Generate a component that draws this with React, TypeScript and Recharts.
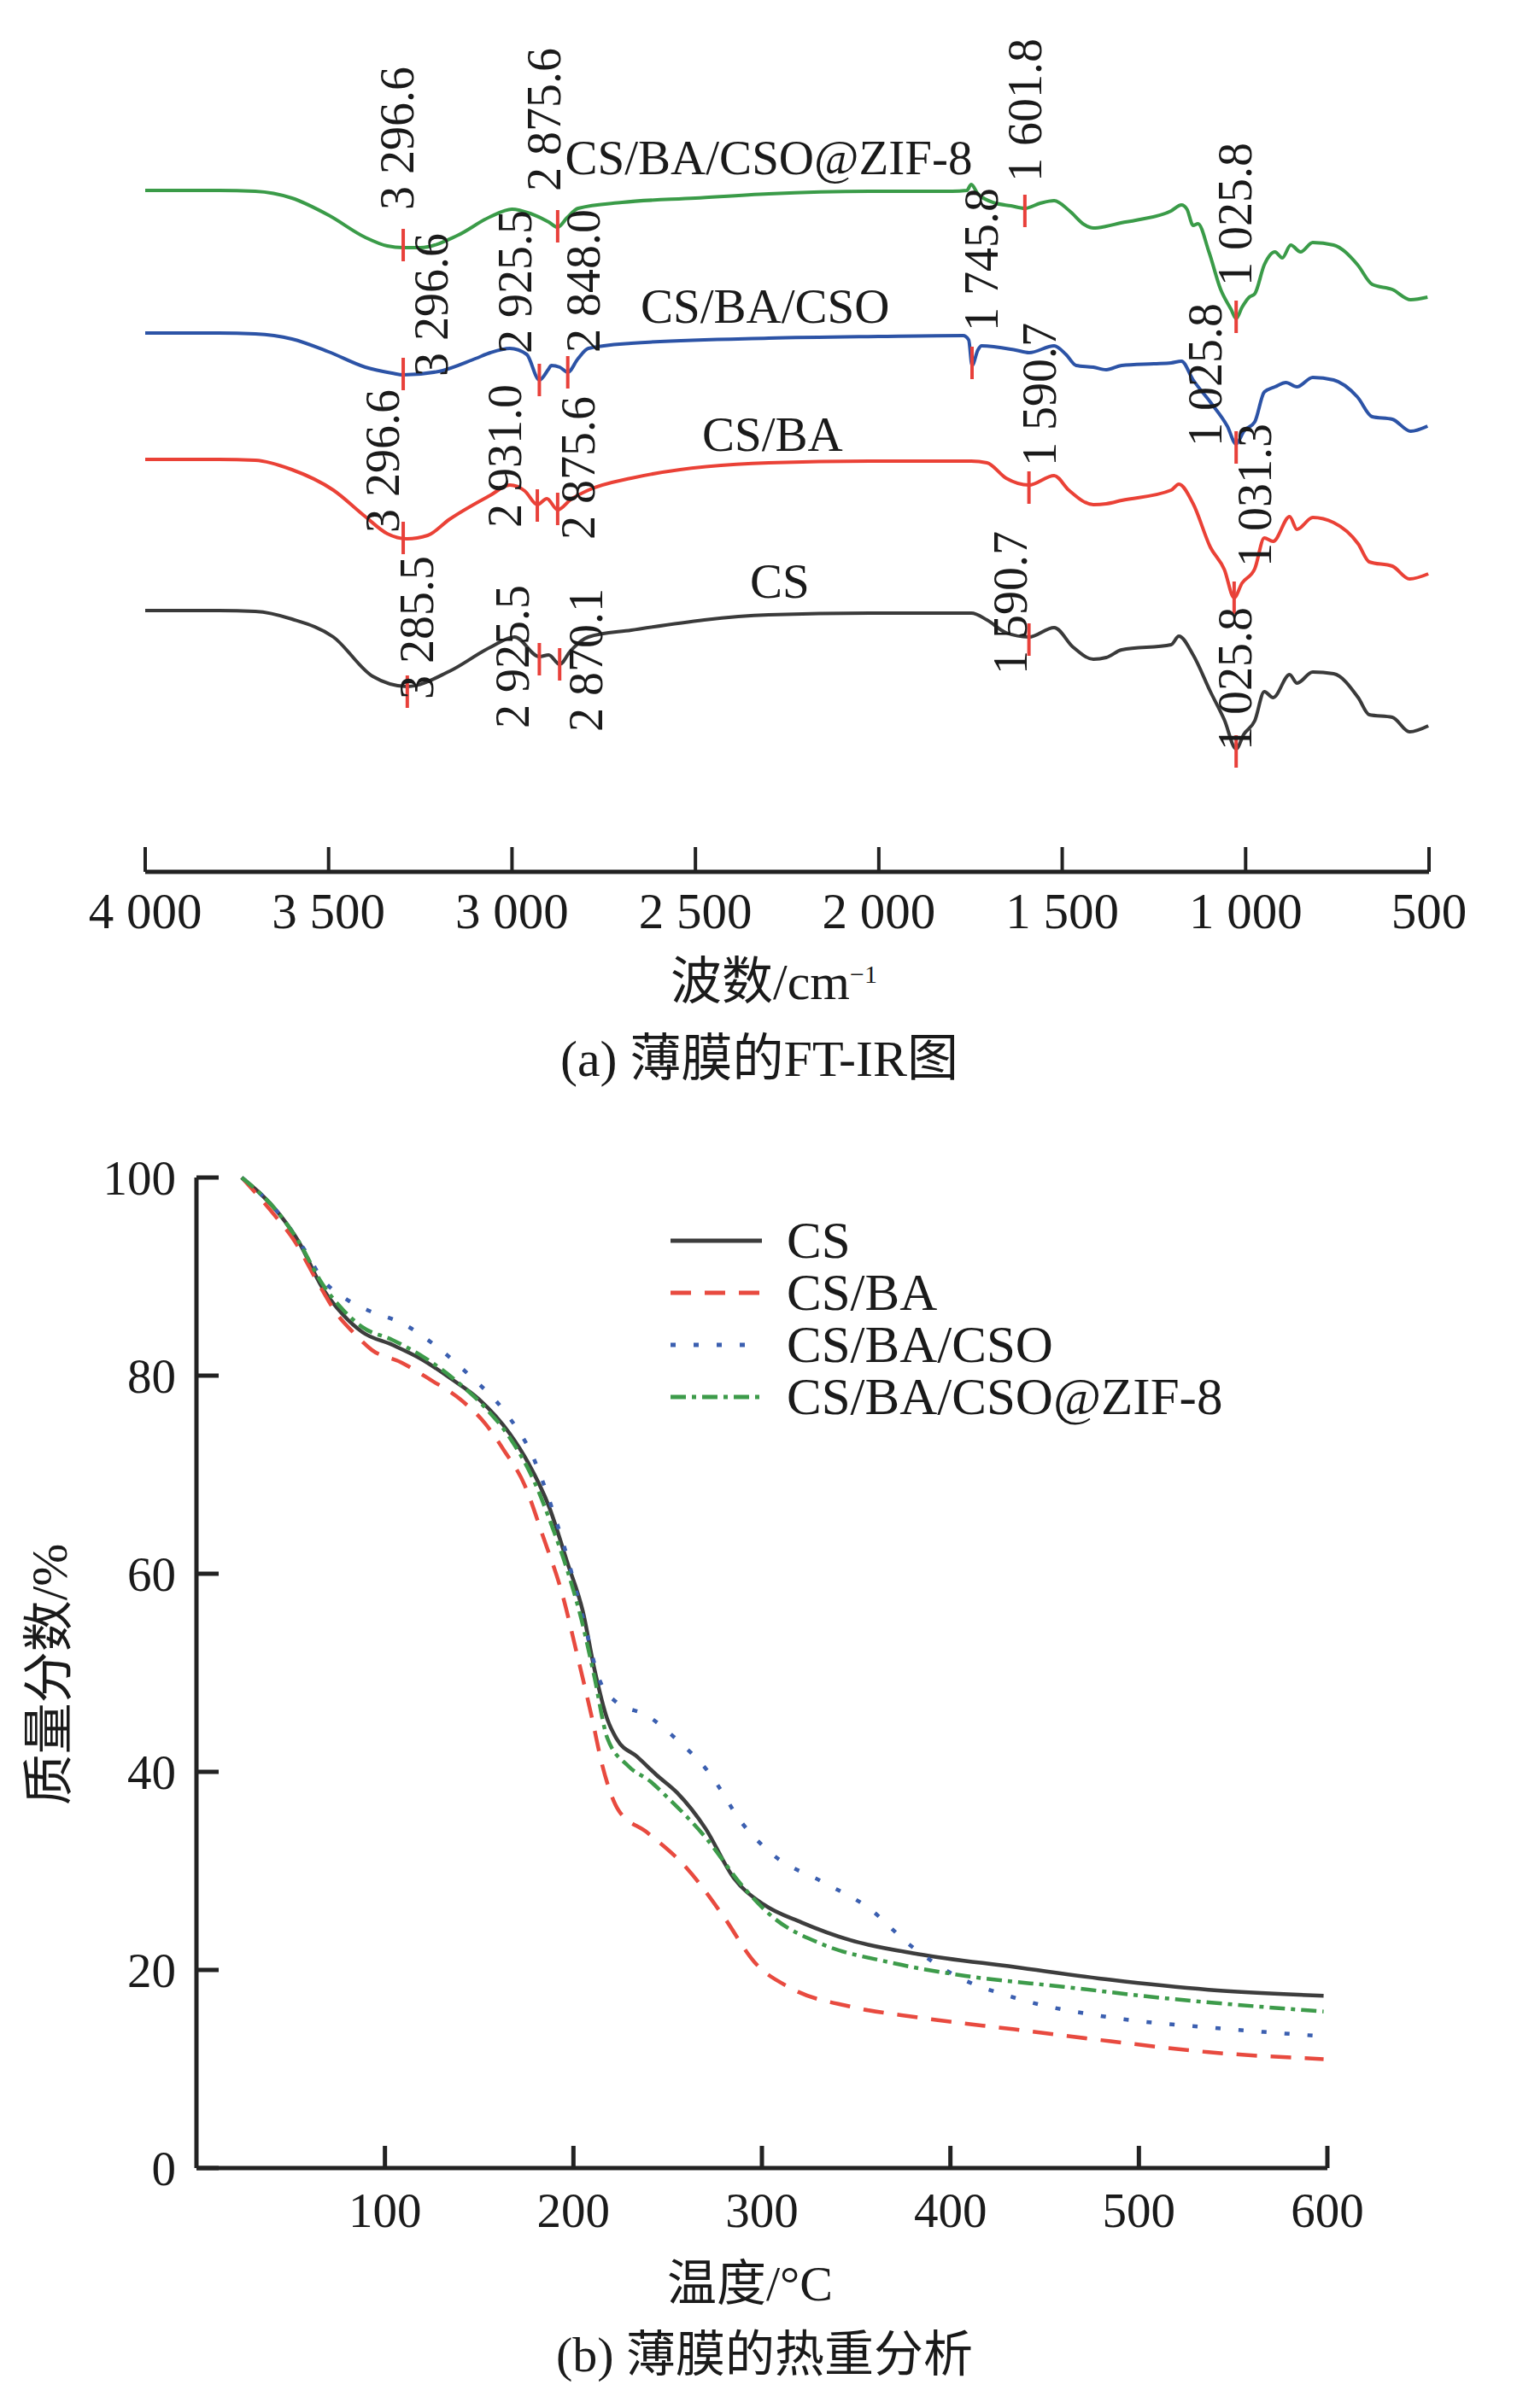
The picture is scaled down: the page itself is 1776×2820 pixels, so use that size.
import React from 'react'
import { ComposedChart, Line, Scatter, XAxis, YAxis, Legend } from 'recharts'

const SERIF = '"Liberation Serif", "Times New Roman", "Noto Sans CJK SC", serif'

// ---- (a) FT-IR spectra: [wavenumber, offset transmittance] ----
const irZif: [number, number][] = [
  [4000, 78.7], [3800, 78.7], [3700, 78.6], [3600, 77.8], [3500, 75.8], [3400, 73.2], [3340, 72.2],
  [3296.6, 72.0], [3250, 72.0], [3150, 73.4], [3060, 75.6], [3000, 76.5], [2950, 76.0], [2900, 75.0],
  [2875.6, 74.4], [2850, 75.5], [2820, 76.6], [2700, 77.3], [2500, 77.8], [2300, 78.3], [2000, 78.6],
  [1800, 78.6], [1760, 78.7], [1748, 79.4], [1730, 78.3], [1681, 77.2], [1640, 76.9], [1601.8, 76.6],
  [1560, 77.2], [1522, 77.5], [1480, 76.3], [1440, 74.7], [1415, 74.3], [1380, 74.5], [1340, 74.9],
  [1300, 75.2], [1203, 76.3], [1175, 77.0], [1160, 76.5], [1143, 74.6], [1130, 74.8], [1100, 71.5],
  [1068, 67.1], [1040, 64.8], [1025.8, 63.7], [1010, 65.0], [990, 66.2], [975, 66.6], [949, 70.0],
  [920, 71.5], [900, 70.8], [877, 72.3], [850, 71.5], [817, 72.6], [760, 72.3], [695, 70.0],
  [655, 67.7], [600, 67.1], [550, 65.9], [504, 66.2],
]
const irCso: [number, number][] = [
  [4000, 62.0], [3800, 62.0], [3700, 61.9], [3600, 61.3], [3500, 59.8], [3400, 58.0], [3327, 57.3],
  [3296.6, 57.1], [3200, 57.5], [3100, 59.0], [3059, 59.7], [3006, 60.2], [2960, 59.5], [2925.5, 56.5],
  [2900, 57.8], [2893, 58.2], [2870, 58.0], [2848, 57.4], [2820, 59.0], [2792, 60.2], [2675, 60.8],
  [2300, 61.4], [2000, 61.6], [1770, 61.7], [1755, 61.2], [1745.8, 58.2], [1730, 60.0], [1720, 60.5],
  [1627, 60.0], [1590, 59.7], [1522, 60.5], [1490, 59.5], [1462, 58.2], [1415, 58.0], [1380, 57.7],
  [1338, 58.2], [1250, 58.4], [1203, 58.5], [1175, 58.7], [1143, 56.5], [1096, 53.9], [1050, 51.1],
  [1025.8, 49.0], [1005, 50.5], [975, 51.6], [949, 55.1], [920, 55.7], [890, 56.2], [860, 55.7],
  [817, 56.8], [760, 56.5], [695, 54.5], [655, 52.2], [600, 51.9], [550, 50.5], [504, 51.1],
]
const irBa: [number, number][] = [
  [4000, 47.2], [3800, 47.2], [3700, 47.1], [3600, 46.0], [3487, 43.6], [3400, 40.5], [3340, 38.5],
  [3287, 37.9], [3230, 38.3], [3170, 40.2], [3059, 43.0], [3006, 44.2], [2965, 43.5], [2931, 41.9],
  [2905, 42.6], [2875.6, 41.3], [2840, 42.5], [2792, 43.6], [2675, 45.0], [2300, 46.8], [2000, 47.0],
  [1748, 47.0], [1705, 46.8], [1653, 45.0], [1590.7, 44.2], [1522, 45.3], [1482, 43.6], [1415, 41.9],
  [1380, 42.0], [1338, 42.4], [1203, 43.6], [1182, 44.3], [1143, 42.0], [1096, 36.9], [1058, 34.3],
  [1031.3, 31.0], [1010, 32.7], [975, 34.4], [949, 38.0], [925, 37.6], [880, 40.5], [860, 39.0],
  [817, 40.4], [760, 39.8], [693, 37.3], [663, 35.2], [600, 34.7], [553, 33.2], [502, 33.8],
]
const irCs: [number, number][] = [
  [4000, 29.5], [3800, 29.5], [3700, 29.4], [3600, 28.5], [3487, 26.4], [3380, 21.8], [3285.5, 20.6],
  [3170, 22.4], [3059, 25.2], [2993, 26.4], [2925.5, 24.1], [2900, 24.3], [2870.1, 23.2], [2840, 24.8],
  [2792, 26.4], [2675, 27.2], [2300, 29.0], [2000, 29.2], [1748, 29.2], [1705, 28.4], [1653, 26.9],
  [1590.7, 26.4], [1522, 27.5], [1470, 25.2], [1415, 23.8], [1380, 24.0], [1338, 24.9], [1203, 25.5],
  [1182, 26.5], [1143, 24.3], [1096, 20.0], [1058, 16.7], [1025.8, 13.3], [1005, 15.0], [975, 16.6],
  [949, 20.0], [925, 19.3], [880, 22.0], [860, 21.0], [817, 22.3], [760, 22.1], [693, 19.3],
  [663, 17.3], [600, 17.0], [553, 15.3], [502, 16.0],
]
const irColors = ['#3a9b48', '#2c53a6', '#ea4136', '#3a3a3a']
const irTicks = [4000, 3500, 3000, 2500, 2000, 1500, 1000, 500]

// peak markers: wavenumber, marker level, label text, label wavenumber, label level
const peakWn = [3296.6, 2875.6, 1601.8, 1025.8, 3296.6, 2925.5, 2848.0, 1745.8, 1025.8, 3296.6, 2931.0, 2875.6, 1590.7, 1031.3, 3285.5, 2925.5, 2870.1, 1590.7, 1025.8]
const peakLevel = [72.3, 74.5, 76.3, 63.9, 57.2, 56.5, 57.4, 58.5, 48.6, 38.0, 41.8, 41.4, 43.9, 31.0, 20.0, 23.8, 23.2, 26.1, 13.0]
const peakText = ['3 296.6', '2 875.6', '1 601.8', '1 025.8', '3 296.6', '2 925.5', '2 848.0', '1 745.8', '1 025.8', '3 296.6', '2 931.0', '2 875.6', '1 590.7', '1 031.3', '3 285.5', '2 925.5', '2 870.1', '1 590.7', '1 025.8']
const peakTextWn = [3313, 2912, 1601, 1028, 3220, 2992, 2805, 1720, 1110, 3353, 3020, 2819, 1562, 975, 3259, 2999, 2798, 1641, 1028]
const peakTextLevel = [84.8, 87.0, 88.1, 75.9, 65.3, 68.0, 68.1, 70.6, 57.1, 47.0, 47.6, 46.2, 54.8, 43.0, 27.5, 24.1, 23.7, 30.4, 21.5]

const curveNames = ['CS/BA/CSO@ZIF-8', 'CS/BA/CSO', 'CS/BA', 'CS']
const curveNameWn = [2300, 2310, 2290, 2270]
const curveNameLevel = [82.6, 65.2, 50.2, 33.0]

// ---- (b) TGA: [temperature, mass %] ----
const tgaCs: [number, number][] = [
  [24, 100], [44, 96.3], [54, 93.6], [67, 88.8], [78, 86.1], [88, 84.4], [104, 83.1], [119, 81.7],
  [135, 79.7], [150, 77.6], [166, 74.2], [176, 71.2], [187, 66.8], [197, 61.0], [205, 56.2], [211, 50.5],
  [218, 45.3], [223, 43.3], [234, 41.5], [244, 39.7], [255, 37.9], [270, 34.3], [285, 29.3], [301, 26.6],
  [321, 24.8], [347, 23.0], [383, 21.6], [434, 20.3], [485, 19.0], [537, 18.0], [598, 17.4],
]
const tgaBa: [number, number][] = [
  [24, 100], [41, 96.3], [52, 93.6], [65, 89.2], [75, 86.1], [83, 84.4], [93, 82.6], [109, 81.3],
  [124, 79.6], [140, 77.6], [153, 75.2], [163, 72.5], [174, 69.0], [184, 63.7], [194, 58.0], [202, 51.8],
  [210, 45.3], [215, 40.9], [224, 36.1], [239, 33.9], [260, 30.3], [280, 25.3], [296, 20.8], [316, 18.1],
  [347, 16.3], [383, 15.2], [434, 14.0], [485, 12.8], [537, 11.7], [598, 11.0],
]
const tgaCso: [number, number][] = [
  [24, 100], [44, 96.3], [57, 92.8], [67, 89.7], [78, 87.9], [91, 86.6], [109, 85.3], [127, 83.0],
  [145, 80.0], [163, 76.5], [179, 71.6], [189, 66.4], [197, 61.5], [207, 54.1], [213, 49.7], [223, 47.0],
  [239, 45.7], [254, 43.4], [272, 39.9], [290, 34.7], [306, 31.6], [332, 28.9], [357, 26.2], [378, 22.6],
  [403, 19.4], [434, 17.2], [485, 15.2], [537, 14.2], [598, 13.3],
]
const tgaZif: [number, number][] = [
  [24, 100], [44, 96.3], [54, 93.6], [67, 89.2], [78, 86.6], [88, 84.9], [104, 83.6], [122, 81.7],
  [137, 79.6], [153, 76.8], [166, 73.8], [179, 69.4], [189, 64.6], [197, 60.2], [205, 54.8], [211, 49.7],
  [218, 43.4], [229, 40.6], [241, 39.0], [250, 37.4], [270, 33.4], [290, 28.4], [306, 25.3], [332, 22.6],
  [367, 20.8], [408, 19.4], [460, 18.3], [511, 17.2], [598, 15.8],
]
const tgaNames = ['CS', 'CS/BA', 'CS/BA/CSO', 'CS/BA/CSO@ZIF-8']
const tgaColors = ['#3d3d3d', '#e84a3f', '#3b5fb0', '#3d9b4a']
const tgaDashes = ['', '24 16', '6 21', '18 7 5 7']
const tgaXTicks = [100, 200, 300, 400, 500, 600]
const tgaYTicks = [0, 20, 40, 60, 80, 100]

const toPts = (arr: [number, number][]) => arr.map(([x, y]) => ({ x, y }))

const fmtWn = (v: number) =>
  v >= 1000 ? `${Math.floor(v / 1000)} ${String(v % 1000).padStart(3, '0')}` : String(v)

const IrTick = (props: any) => {
  const { x, y, payload } = props
  return (
    <g>
      <line x1={x} y1={y} x2={x} y2={y - 29} stroke="#222" strokeWidth={4} />
      <text x={x} y={y + 46} textAnchor="middle" dominantBaseline="central" fontSize={59} fontFamily={SERIF} fill="#1a1a1a">
        {fmtWn(payload.value)}
      </text>
    </g>
  )
}

const PeakMark = (props: any) => {
  const { cx, cy } = props
  return <line x1={cx} y1={cy - 19} x2={cx} y2={cy + 19} stroke="#e8403a" strokeWidth={4} />
}

const PeakLabel = (props: any) => {
  const { cx, cy, payload } = props
  return (
    <text x={cx} y={cy} transform={`rotate(-90 ${cx} ${cy})`} textAnchor="middle" dominantBaseline="central"
      fontSize={56} fontFamily={SERIF} fill="#1a1a1a">
      {payload.label}
    </text>
  )
}

const NameLabel = (props: any) => {
  const { cx, cy, payload } = props
  return (
    <text x={cx} y={cy} textAnchor="middle" dominantBaseline="central" fontSize={57} fontFamily={SERIF} fill="#1a1a1a">
      {payload.label}
    </text>
  )
}

const TgaXTick = (props: any) => {
  const { x, y, payload } = props
  return (
    <g>
      <line x1={x} y1={y} x2={x} y2={y - 26} stroke="#222" strokeWidth={5} />
      <text x={x} y={y + 49} textAnchor="middle" dominantBaseline="central" fontSize={57} fontFamily={SERIF} fill="#1a1a1a">
        {payload.value}
      </text>
    </g>
  )
}

const TgaYTick = (props: any) => {
  const { x, y, payload } = props
  return (
    <g>
      <line x1={x} y1={y} x2={x + 26} y2={y} stroke="#222" strokeWidth={5} />
      <text x={x - 24} y={y} textAnchor="end" dominantBaseline="central" fontSize={57} fontFamily={SERIF} fill="#1a1a1a">
        {payload.value}
      </text>
    </g>
  )
}

const TgaLegend = (props: any) => {
  const items = (props.payload || []).map((p: any) => p.value)
  return (
    <div>
      {items.map((name: string) => {
        const i = tgaNames.indexOf(name)
        return (
          <div key={name} style={{ display: 'flex', alignItems: 'center', height: 61 }}>
            <svg width={110} height={20}>
              <line x1={0} y1={10} x2={107} y2={10} stroke={tgaColors[i]} strokeWidth={5}
                strokeDasharray={tgaDashes[i] || undefined} />
            </svg>
            <span style={{ marginLeft: 26, fontSize: 61, fontFamily: SERIF, lineHeight: '61px', color: '#1a1a1a' }}>{name}</span>
          </div>
        )
      })}
    </div>
  )
}

const textBox = (cx: number, cy: number, size: number): React.CSSProperties => ({
  position: 'absolute',
  left: cx - 500,
  top: cy - 40,
  width: 1000,
  height: 80,
  lineHeight: '80px',
  textAlign: 'center',
  fontSize: size,
  fontFamily: SERIF,
  color: '#1a1a1a',
  whiteSpace: 'nowrap',
})

export default function App() {
  const irSeries = [irZif, irCso, irBa, irCs]
  const peakMarks = peakWn.map((x, i) => ({ x, y: peakLevel[i] }))
  const peakLabels = peakTextWn.map((x, i) => ({ x, y: peakTextLevel[i], label: peakText[i] }))
  const nameLabels = curveNameWn.map((x, i) => ({ x, y: curveNameLevel[i], label: curveNames[i] }))
  const tgaSeries = [tgaCs, tgaBa, tgaCso, tgaZif]

  return (
    <div style={{ position: 'absolute', left: 0, top: 0, width: 1776, height: 2820, background: '#fff', overflow: 'hidden' }}>
      {/* (a) FT-IR */}
      <div style={{ position: 'absolute', left: 0, top: 0 }}>
        <ComposedChart width={1776} height={1300} margin={{ top: 10, right: 103, left: 170, bottom: 249 }}>
          <XAxis type="number" dataKey="x" domain={[500, 4000]} reversed ticks={irTicks} interval={0}
            allowDataOverflow height={30} axisLine={{ stroke: '#222', strokeWidth: 5 }}
            tickLine={false} tickSize={0} tickMargin={0} tick={<IrTick />} />
          <YAxis type="number" domain={[-1.1, 100]} allowDataOverflow hide />
          {irSeries.map((s, i) => (
            <Line key={i} data={toPts(s)} dataKey="y" type="monotone" stroke={irColors[i]} strokeWidth={4}
              dot={false} activeDot={false} isAnimationActive={false} />
          ))}
          <Scatter data={peakMarks} dataKey="y" shape={(p: any) => <PeakMark {...p} />} isAnimationActive={false} />
          <Scatter data={peakLabels} dataKey="y" shape={(p: any) => <PeakLabel {...p} />} isAnimationActive={false} />
          <Scatter data={nameLabels} dataKey="y" shape={(p: any) => <NameLabel {...p} />} isAnimationActive={false} />
        </ComposedChart>
      </div>
      <div style={textBox(906, 1150, 60)}>
        波数/cm<sup style={{ fontSize: 30, verticalAlign: 'top', lineHeight: '62px' }}>−1</sup>
      </div>
      <div style={textBox(889, 1240, 60)}>(a) 薄膜的FT-IR图</div>

      {/* (b) TGA */}
      <div style={{ position: 'absolute', left: 0, top: 1300 }}>
        <ComposedChart width={1776} height={1350} margin={{ top: 79, right: 222, left: 170, bottom: 81 }}>
          <XAxis type="number" dataKey="x" domain={[0, 600]} ticks={tgaXTicks} interval={0} allowDataOverflow
            height={30} axisLine={{ stroke: '#222', strokeWidth: 5 }} tickLine={false} tickSize={0} tickMargin={0}
            tick={<TgaXTick />} />
          <YAxis type="number" domain={[0, 100]} ticks={tgaYTicks} interval={0} width={60}
            axisLine={{ stroke: '#222', strokeWidth: 5 }} tickLine={false} tickSize={0} tickMargin={0}
            tick={<TgaYTick />} />
          {tgaSeries.map((s, i) => (
            <Line key={tgaNames[i]} name={tgaNames[i]} data={toPts(s)} dataKey="y" type="monotone"
              stroke={tgaColors[i]} strokeWidth={4.5} strokeDasharray={tgaDashes[i] || undefined}
              dot={false} activeDot={false} isAnimationActive={false} />
          ))}
          <Legend layout="vertical" align="center" verticalAlign="middle" content={<TgaLegend />}
            wrapperStyle={{ left: 785, top: 122, width: 700, height: 250 }} />
        </ComposedChart>
      </div>
      <div style={{ ...textBox(58, 1961, 60), transform: 'rotate(-90deg)' }}>质量分数/%</div>
      <div style={textBox(878, 2675, 58)}>温度/°C</div>
      <div style={textBox(895, 2758, 58)}>(b) 薄膜的热重分析</div>
    </div>
  )
}
